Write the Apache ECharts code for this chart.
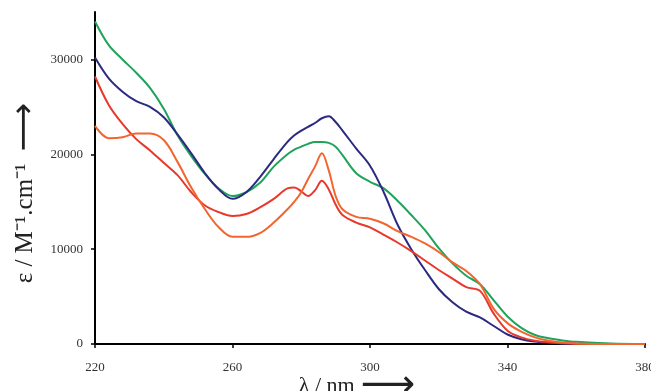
<!DOCTYPE html>
<html>
<head>
<meta charset="utf-8">
<script src="https://cdn.jsdelivr.net/npm/echarts@6/dist/echarts.min.js"></script>
<style>html,body{margin:0;padding:0;background:#fff}#c{width:651px;height:391px}</style>
</head>
<body>
<div id="c"></div>
<script>
const wavelengths = [220,224,228,232,236,240,244,248,252,256,260,264,268,272,276,278,280,282,284,286,288,290,292,296,300,304,308,312,316,320,324,328,332,336,340,344,348,352,356,360,370,380];
const greenValues = [34000,31500,30000,28600,27000,24800,22000,19800,17900,16400,15600,16000,17000,18700,20000,20500,20800,21100,21300,21300,21200,20800,19900,18000,17100,16400,15100,13600,12000,10100,8500,7200,6300,4600,2900,1700,950,600,380,230,60,0];
const blueValues = [30200,28000,26600,25600,25000,23900,22100,20100,18000,16300,15300,16000,17600,19500,21300,22000,22500,22900,23300,23800,24000,23400,22500,20600,18800,16000,12600,10000,7800,5800,4400,3400,2800,1900,1000,500,250,120,60,30,0,0];
const redValues = [28200,25200,23200,21600,20400,19100,17800,16000,14600,13900,13500,13700,14400,15300,16400,16500,16100,15600,16200,17200,16300,14700,13600,12800,12300,11500,10700,9800,8800,7800,6900,6000,5600,3200,1400,700,350,180,80,30,0,0];
const orangeValues = [23000,21700,21800,22200,22200,21500,19200,16500,14200,12300,11300,11300,11700,12800,14200,15000,16000,17400,18700,20100,18300,15600,14200,13400,13200,12700,11900,11300,10600,9700,8600,7700,6300,3700,2200,1300,700,350,150,60,0,0];
const xTicks = [220,260,300,340,380];
const yTicks = [0,10000,20000,30000];

const pairs = v => wavelengths.map((w,i)=>[w,v[i]]);
const font = 'Liberation Serif';
const mk = (vals,color)=>({type:'line',data:pairs(vals),smooth:0.35,showSymbol:false,
  lineStyle:{color:color,width:2},itemStyle:{color:color},z:3});

const chart = echarts.init(document.getElementById('c'));
chart.setOption({
  animation:false,
  backgroundColor:'#fff',
  grid:{left:95,right:6,top:12,bottom:47,outerBoundsMode:'none',containLabel:false},
  xAxis:{type:'value',min:220,max:380,interval:40,
    name:'{t|λ / nm}  {a|⟶}',nameLocation:'middle',nameGap:31,nameMoveOverlap:false,
    nameTextStyle:{fontFamily:font,color:'#222',padding:[0,26,0,0],lineHeight:22,
      rich:{t:{fontFamily:font,fontSize:22,color:'#222',lineHeight:22},a:{fontFamily:'DejaVu Sans',fontSize:38,color:'#222',lineHeight:22}}},
    axisLine:{lineStyle:{color:'#000',width:2}},
    axisTick:{show:true,length:4,lineStyle:{color:'#000',width:1.5},customValues:xTicks},
    axisLabel:{fontFamily:font,fontSize:13,color:'#333',margin:17,customValues:xTicks,formatter:v=>String(v)},
    splitLine:{show:false}},
  yAxis:{type:'value',min:0,max:35000,interval:10000,
    name:'{t|ε / M⁻¹.cm⁻¹}    {a|⟶}',nameLocation:'middle',nameGap:57,nameRotate:90,nameMoveOverlap:false,
    nameTextStyle:{fontFamily:font,color:'#222',padding:[0,30,0,0],lineHeight:26,
      rich:{t:{fontFamily:font,fontSize:25,color:'#222',lineHeight:26},a:{fontFamily:'DejaVu Sans',fontSize:34,color:'#222',lineHeight:26}}},
    axisLine:{show:true,lineStyle:{color:'#000',width:2}},
    axisTick:{show:true,length:4,lineStyle:{color:'#000',width:1.5},customValues:yTicks},
    axisLabel:{fontFamily:font,fontSize:13,color:'#333',margin:12,customValues:yTicks,formatter:v=>String(v)},
    splitLine:{show:false}},
  series:[
    mk(greenValues,'#1fa35a'),
    mk(blueValues,'#2c2a80'),
    mk(redValues,'#e8382c'),
    mk(orangeValues,'#f2652e')
  ]
});
</script>
</body>
</html>
